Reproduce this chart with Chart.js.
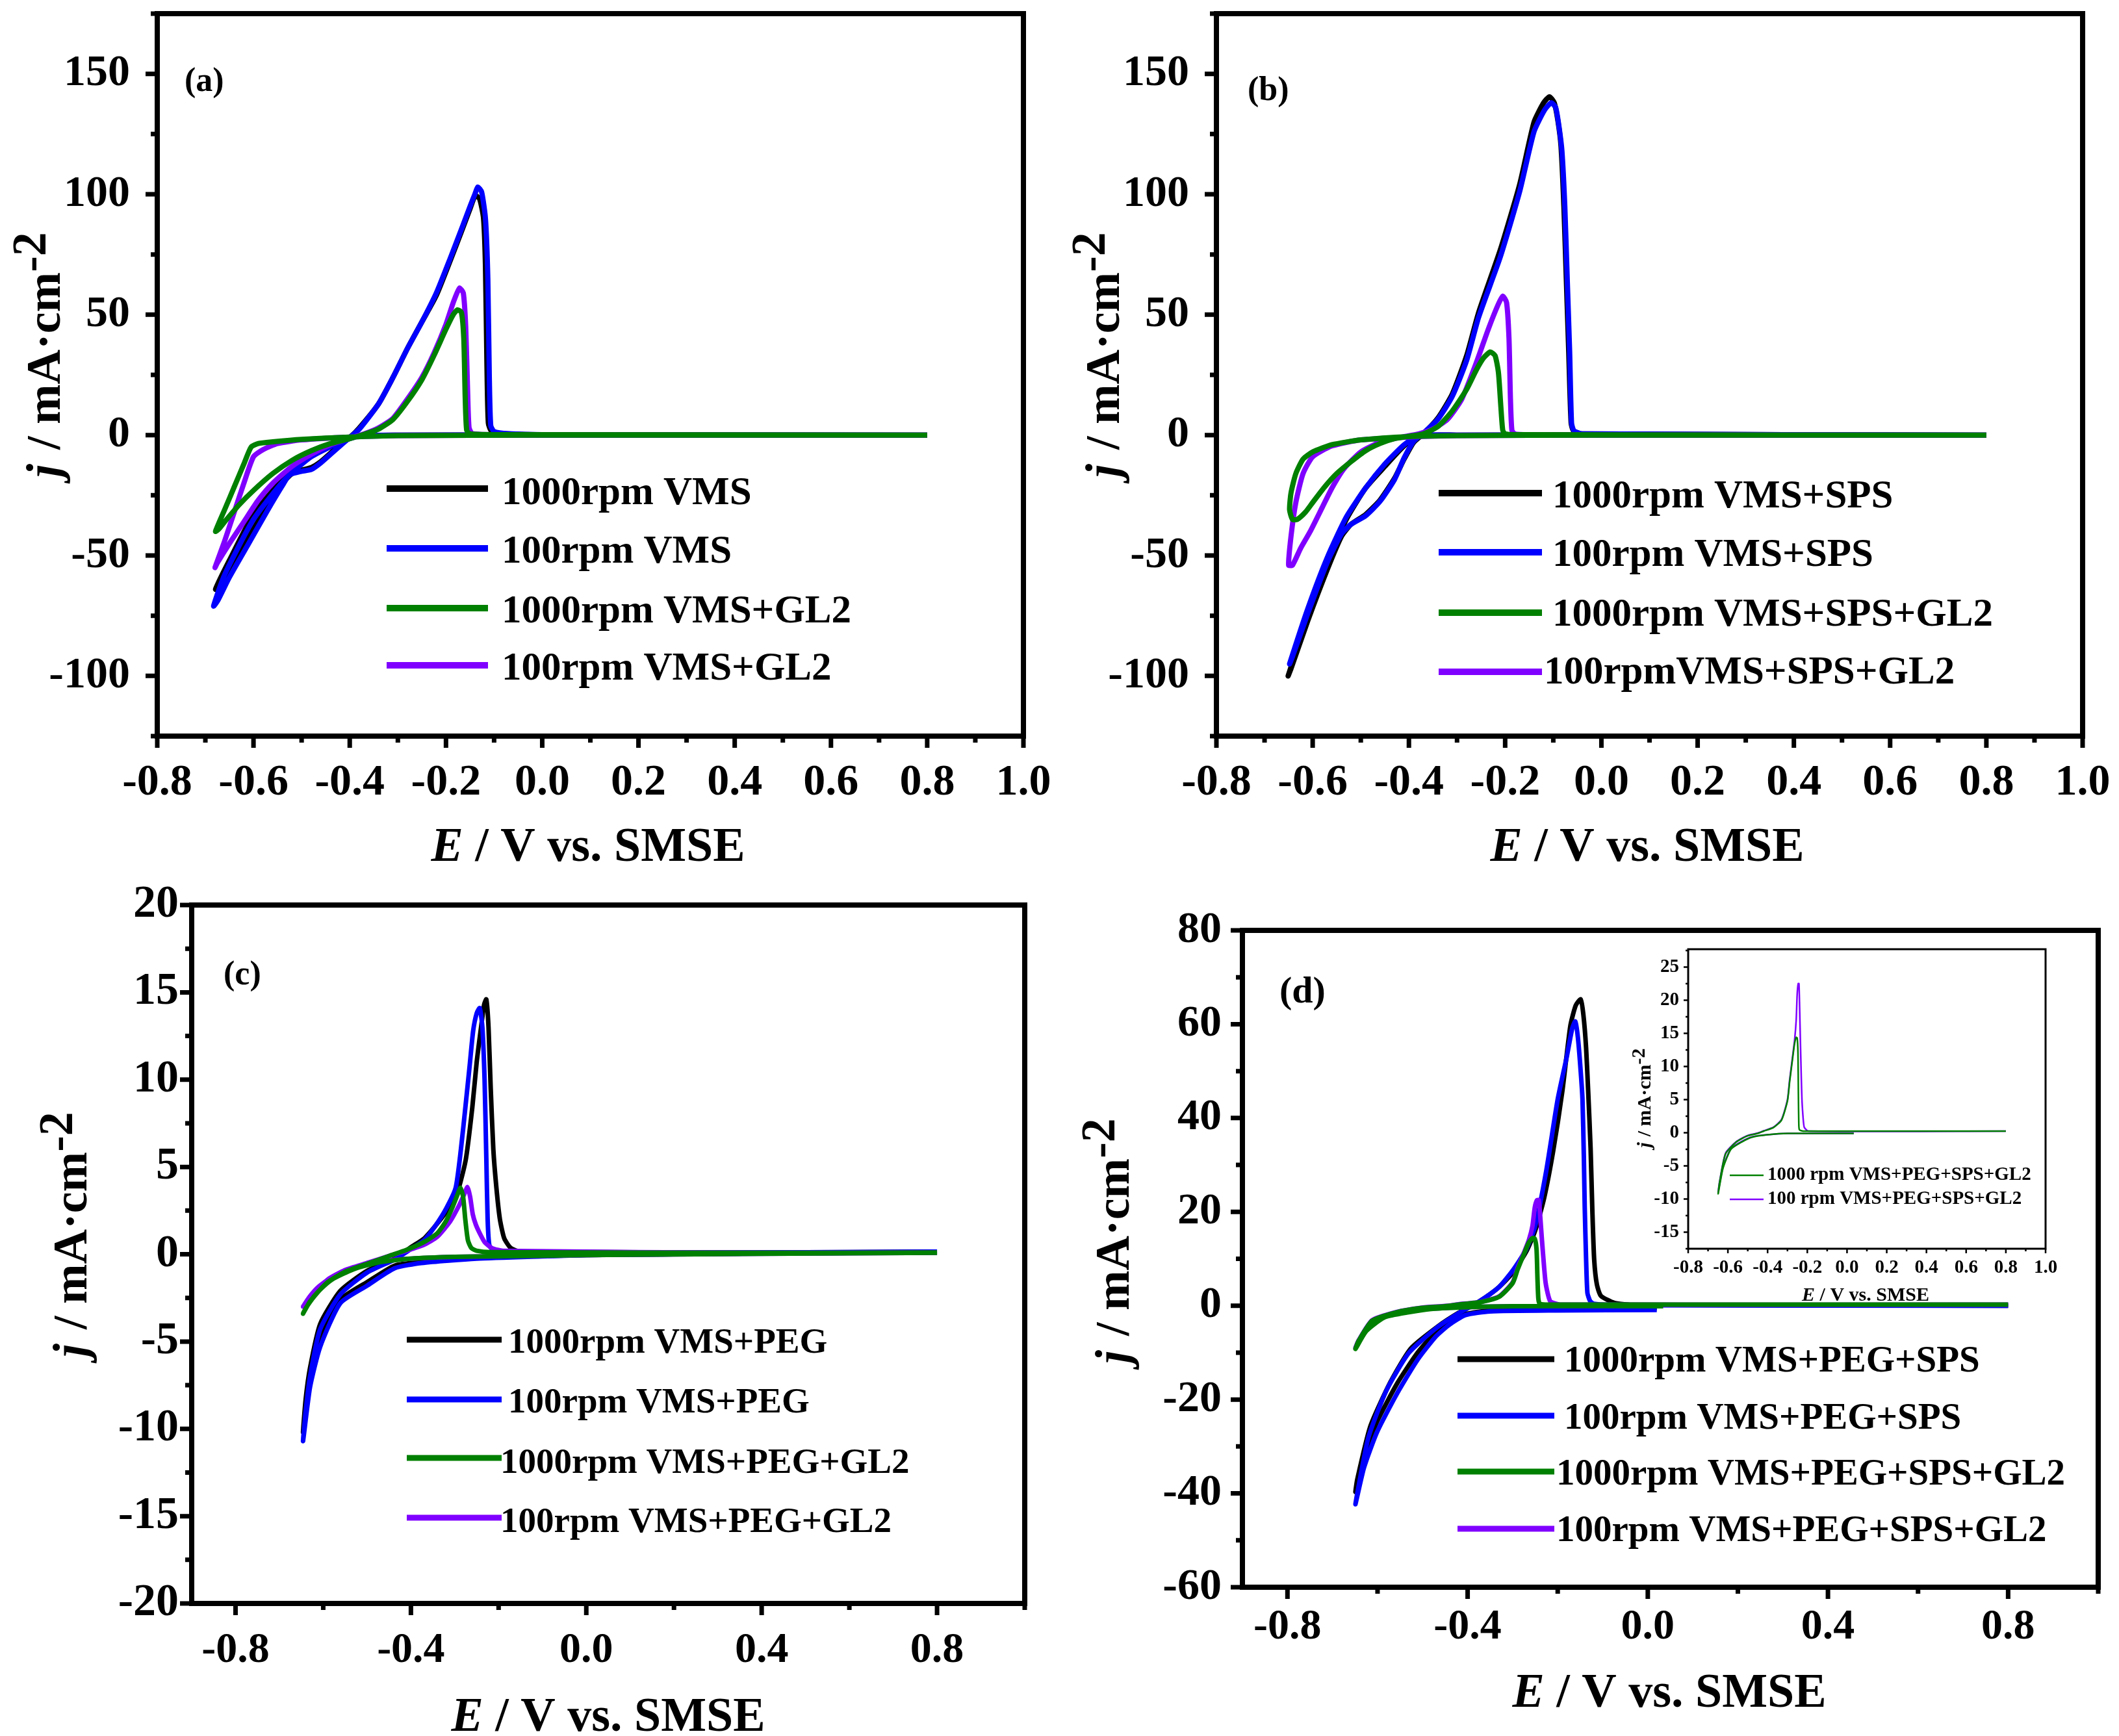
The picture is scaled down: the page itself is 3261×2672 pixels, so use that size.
<!DOCTYPE html>
<html>
<head>
<meta charset="utf-8">
<script src="https://cdn.jsdelivr.net/npm/chart.js@4.4.1/dist/chart.umd.min.js"></script>
<style>
  html, body { margin: 0; padding: 0; background: #fff; }
  body { width: 3261px; height: 2672px; position: relative; overflow: hidden; }
  canvas { position: absolute; }
</style>
</head>
<body>
<canvas id="chartA"></canvas>
<canvas id="chartB"></canvas>
<canvas id="chartC"></canvas>
<canvas id="chartD"></canvas>
<canvas id="chartInset"></canvas>
<script>
// ---- (a) VMS ----
const aE1000 = [0.8, 0.0, -0.3, -0.38, -0.42, -0.48, -0.535, -0.6, -0.65, -0.679, -0.67, -0.64, -0.6, -0.57, -0.54, -0.52, -0.5, -0.48, -0.46, -0.44, -0.42, -0.4, -0.38, -0.34, -0.31, -0.28, -0.25, -0.22, -0.19, -0.165, -0.15, -0.139, -0.13, -0.122, -0.118, -0.115, -0.112, -0.105, -0.08, 0.0, 0.8];
const aJ1000 = [0, 0, 0, -0.3, -2.5, -8.5, -17.5, -33, -52, -64, -62, -52, -39, -29, -20, -16, -14.5, -13.5, -11, -7.5, -4, -1, 3, 13, 24, 36, 47, 58, 73, 86, 94, 99.5, 98, 90, 70, 30, 5, 1.5, 0.6, 0.2, 0];
const aE100 = [0.8, 0.0, -0.3, -0.38, -0.42, -0.48, -0.535, -0.6, -0.66, -0.683, -0.675, -0.65, -0.61, -0.57, -0.54, -0.525, -0.5, -0.48, -0.46, -0.44, -0.42, -0.4, -0.38, -0.34, -0.31, -0.28, -0.25, -0.22, -0.19, -0.165, -0.15, -0.14, -0.134, -0.126, -0.118, -0.113, -0.11, -0.107, -0.1, -0.07, 0.0, 0.8];
const aJ100 = [0, 0, 0, -0.4, -3, -9, -18.5, -35, -58, -71, -69, -59, -45, -31, -21, -16.5, -15, -14.3, -11.5, -8, -4.5, -1, 2.5, 13, 24, 36, 47, 59, 74, 87, 95, 100, 103, 101, 90, 65, 25, 4, 1.5, 0.6, 0.2, 0];
const aE1000gl = [0.8, 0.0, -0.3, -0.4, -0.5, -0.56, -0.59, -0.605, -0.62, -0.64, -0.66, -0.679, -0.672, -0.66, -0.63, -0.6, -0.56, -0.52, -0.48, -0.44, -0.4, -0.37, -0.34, -0.31, -0.28, -0.25, -0.225, -0.2, -0.185, -0.176, -0.168, -0.163, -0.16, -0.157, -0.15, -0.1, 0.8];
const aJ1000gl = [0, 0, -0.2, -0.8, -1.8, -2.8, -3.5, -5, -12, -21.5, -31, -40, -39, -36, -29, -23, -16, -10.5, -6.5, -3.5, -1.5, 0.3, 2.5, 6.5, 14, 23, 33, 44, 50, 52, 51, 40, 15, 2, 0.5, 0.2, 0];
const aE100gl = [0.8, 0.0, -0.3, -0.4, -0.5, -0.55, -0.58, -0.6, -0.62, -0.64, -0.66, -0.68, -0.675, -0.65, -0.62, -0.59, -0.56, -0.52, -0.48, -0.44, -0.4, -0.37, -0.34, -0.31, -0.28, -0.25, -0.225, -0.2, -0.185, -0.172, -0.164, -0.159, -0.155, -0.152, -0.145, -0.1, 0.8];
const aJ100gl = [0, 0, -0.2, -0.8, -2, -3.5, -6, -9, -20, -32, -44, -55, -53, -45, -36, -27, -20, -13, -8, -4, -1.3, 0.5, 3, 7, 15, 24, 34, 46, 55, 61, 59, 45, 18, 3, 0.6, 0.2, 0];

// ---- (b) VMS+SPS ----
const bE1000 = [0.8, 0.0, -0.3, -0.38, -0.41, -0.45, -0.49, -0.53, -0.57, -0.61, -0.651, -0.645, -0.61, -0.57, -0.54, -0.52, -0.49, -0.46, -0.43, -0.41, -0.39, -0.37, -0.34, -0.31, -0.28, -0.255, -0.21, -0.17, -0.14, -0.12, -0.108, -0.098, -0.09, -0.084, -0.078, -0.073, -0.068, -0.063, -0.058, -0.04, 0.8];
const bJ1000 = [0, 0, 0, -0.3, -4.5, -13, -22, -35, -53, -75, -100, -97, -77, -56, -42, -37, -33, -27, -18, -10, -3, 0.5, 7, 17, 33, 51, 77, 104, 130, 138, 140.5, 138, 130, 120, 95, 65, 35, 5, 1.8, 0.5, 0];
const bE100 = [0.8, 0.0, -0.3, -0.38, -0.41, -0.45, -0.49, -0.53, -0.57, -0.61, -0.648, -0.642, -0.61, -0.57, -0.54, -0.52, -0.49, -0.46, -0.43, -0.41, -0.39, -0.37, -0.34, -0.31, -0.28, -0.255, -0.21, -0.17, -0.14, -0.118, -0.104, -0.095, -0.088, -0.082, -0.076, -0.071, -0.066, -0.062, -0.057, -0.04, 0.8];
const bJ100 = [0, 0, 0, -0.3, -4, -12, -22, -34, -51, -72, -95, -92, -74, -53, -41, -37, -33.5, -27.5, -18.5, -9.5, -2.5, 0.8, 6.5, 16, 31, 49, 74, 101, 126, 135, 138, 136, 128, 118, 95, 65, 35, 5, 1.8, 0.5, 0];
const bE1000gl = [0.8, 0.0, -0.3, -0.4, -0.5, -0.56, -0.6, -0.62, -0.635, -0.645, -0.648, -0.642, -0.632, -0.615, -0.6, -0.575, -0.55, -0.52, -0.49, -0.46, -0.43, -0.4, -0.37, -0.34, -0.31, -0.28, -0.26, -0.245, -0.231, -0.221, -0.214, -0.209, -0.205, -0.2, -0.18, 0.8];
const bJ1000gl = [0, 0, -0.2, -0.6, -2, -4, -7, -10, -16, -24, -31, -35, -35, -32, -28, -21.5, -16, -11, -6.5, -3.5, -1.5, -0.5, 0.5, 3.5, 10, 19, 27, 32, 34.5, 33, 26, 12, 2, 0.5, 0.2, 0];
const bE100gl = [0.8, 0.0, -0.3, -0.4, -0.5, -0.56, -0.6, -0.62, -0.635, -0.645, -0.65, -0.642, -0.625, -0.605, -0.58, -0.56, -0.535, -0.5, -0.46, -0.42, -0.38, -0.35, -0.32, -0.29, -0.26, -0.235, -0.215, -0.205, -0.197, -0.192, -0.189, -0.186, -0.18, -0.15, 0.8];
const bJ100gl = [0, 0, -0.2, -0.8, -2, -4.5, -9, -16, -28, -42, -54, -54, -47, -40, -30, -22, -14, -7, -3, -1, 0.5, 2.5, 6.5, 15, 30, 44, 54, 57.7, 55, 40, 15, 2, 0.5, 0.2, 0];

// ---- (c) VMS+PEG ----
const cE1000 = [0.8, 0.4, 0.0, -0.1, -0.25, -0.376, -0.437, -0.5, -0.561, -0.607, -0.63, -0.646, -0.64, -0.63, -0.607, -0.561, -0.5, -0.437, -0.4, -0.37, -0.345, -0.32, -0.298, -0.275, -0.26, -0.25, -0.24, -0.233, -0.228, -0.223, -0.218, -0.212, -0.205, -0.197, -0.187, -0.172, -0.15, 0.4, 0.8];
const cJ1000 = [0.1, 0.05, -0.05, -0.1, -0.2, -0.45, -0.65, -1.6, -2.6, -4.9, -7, -10.2, -8.3, -6.5, -4, -2.1, -0.95, -0.25, 0.4, 0.9, 1.6, 2.4, 3.2, 5.4, 8.4, 11, 13, 14.3, 14.6, 13, 9.5, 6, 3.8, 2, 0.9, 0.35, 0.15, 0.1, 0.15];
const cE100 = [0.8, 0.4, 0.0, -0.1, -0.25, -0.376, -0.437, -0.5, -0.561, -0.607, -0.63, -0.646, -0.64, -0.63, -0.607, -0.561, -0.5, -0.437, -0.4, -0.37, -0.345, -0.32, -0.298, -0.286, -0.275, -0.266, -0.258, -0.25, -0.243, -0.237, -0.232, -0.228, -0.225, -0.221, -0.21, -0.18, 0.4, 0.8];
const cJ100 = [0.1, 0.05, -0.05, -0.12, -0.25, -0.5, -0.8, -1.8, -2.8, -5.3, -7.6, -10.7, -9, -7, -4.3, -2.3, -1.05, -0.3, 0.3, 0.8, 1.6, 2.6, 3.8, 6, 8.6, 10.8, 12.8, 13.8, 14.1, 13, 10, 5.5, 2, 0.5, 0.2, 0.12, 0.1, 0.15];
const cE1000gl = [0.8, 0.4, 0.0, -0.2, -0.3, -0.4, -0.47, -0.53, -0.58, -0.61, -0.63, -0.646, -0.64, -0.62, -0.59, -0.55, -0.5, -0.45, -0.41, -0.37, -0.34, -0.32, -0.305, -0.294, -0.287, -0.281, -0.276, -0.27, -0.262, -0.25, -0.22, 0.4, 0.8];
const cJ1000gl = [0.08, 0.03, -0.05, -0.12, -0.15, -0.25, -0.45, -0.85, -1.45, -2.1, -2.7, -3.4, -3.1, -2.4, -1.6, -1.0, -0.55, -0.1, 0.25, 0.7, 1.2, 1.9, 2.7, 3.4, 3.8, 3.3, 2, 0.8, 0.35, 0.2, 0.12, 0.08, 0.1];
const cE100gl = [0.8, 0.4, 0.0, -0.2, -0.3, -0.4, -0.47, -0.53, -0.58, -0.61, -0.63, -0.646, -0.64, -0.62, -0.59, -0.55, -0.5, -0.45, -0.41, -0.37, -0.34, -0.31, -0.29, -0.279, -0.271, -0.265, -0.259, -0.252, -0.243, -0.232, -0.215, -0.19, 0.4, 0.8];
const cJ100gl = [0.08, 0.03, -0.05, -0.12, -0.15, -0.25, -0.4, -0.75, -1.3, -1.85, -2.4, -3.0, -2.8, -2.2, -1.45, -0.9, -0.5, -0.1, 0.2, 0.55, 1.0, 1.9, 2.8, 3.4, 3.85, 3.3, 2.3, 1.7, 1.2, 0.7, 0.35, 0.2, 0.08, 0.1];

// ---- (d) VMS+PEG+SPS (GL2 curves also shown in the inset) ----
const dE1000 = [0.02, -0.2, -0.35, -0.405, -0.44, -0.47, -0.511, -0.556, -0.6, -0.63, -0.649, -0.645, -0.616, -0.571, -0.526, -0.466, -0.42, -0.39, -0.36, -0.33, -0.3, -0.27, -0.25, -0.23, -0.21, -0.19, -0.172, -0.16, -0.149, -0.143, -0.137, -0.132, -0.127, -0.123, -0.119, -0.113, -0.104, -0.074, -0.03, 0.8];
const dJ1000 = [-0.5, -0.8, -1.0, -1.8, -3.3, -5.5, -10, -16.5, -24.5, -32, -39.7, -37, -25.7, -16.2, -9.1, -4.4, -1.5, 0, 1.8, 4, 7, 11.5, 16, 23, 33, 45.5, 59.6, 64, 65.3, 62, 55, 45, 33.6, 20, 9.8, 4.5, 2.1, 0.6, 0.2, 0];
const dE100 = [0.02, -0.2, -0.35, -0.405, -0.44, -0.47, -0.511, -0.556, -0.601, -0.63, -0.649, -0.645, -0.62, -0.58, -0.53, -0.47, -0.42, -0.39, -0.36, -0.33, -0.3, -0.27, -0.25, -0.225, -0.2, -0.18, -0.168, -0.161, -0.155, -0.149, -0.145, -0.142, -0.14, -0.137, -0.134, -0.128, -0.12, -0.05, 0.8];
const dJ100 = [-0.9, -1.0, -1.2, -2, -4, -6.5, -11.5, -18.6, -26.9, -34.5, -42.3, -40, -28, -18, -10, -4.8, -1.6, 0, 1.8, 4, 7.5, 12, 17, 29, 44, 53, 59, 60.6, 57, 50, 44, 32, 21, 10, 2.7, 1, 0.4, 0.1, 0];
const dE1000gl = [0.034, -0.3, -0.4, -0.477, -0.531, -0.585, -0.625, -0.649, -0.642, -0.612, -0.558, -0.504, -0.45, -0.42, -0.37, -0.33, -0.3, -0.289, -0.275, -0.264, -0.256, -0.251, -0.247, -0.245, -0.243, -0.24, -0.221, 0.8];
const dJ1000gl = [-0.1, -0.1, -0.3, -0.66, -1.4, -2.5, -5.4, -9.2, -7.5, -3.2, -1.4, -0.5, -0.1, 0.25, 0.8, 1.9, 4.8, 7.7, 11, 13.5, 14.4, 14.3, 12, 6, 1.5, 0.45, 0.25, 0.25];
const dE100gl = [0.034, -0.3, -0.4, -0.477, -0.531, -0.585, -0.625, -0.649, -0.642, -0.612, -0.558, -0.504, -0.45, -0.42, -0.37, -0.33, -0.3, -0.289, -0.275, -0.264, -0.256, -0.251, -0.246, -0.242, -0.238, -0.235, -0.23, -0.227, -0.224, -0.219, -0.215, -0.195, 0.8];
const dJ100gl = [-0.1, -0.1, -0.3, -0.6, -1.3, -2.4, -5.2, -9.0, -7.4, -3.1, -1.35, -0.45, -0.05, 0.3, 0.85, 2.0, 5.0, 8, 11.3, 14, 17, 20.9, 22.5, 22.5, 18, 14, 8, 5, 3.4, 1.5, 0.8, 0.25, 0.25];

// ---- legend labels ----
const legendA = ['1000rpm VMS', '100rpm VMS', '1000rpm VMS+GL2', '100rpm VMS+GL2'];
const legendB = ['1000rpm VMS+SPS', '100rpm VMS+SPS', '1000rpm VMS+SPS+GL2', '100rpmVMS+SPS+GL2'];
const legendC = ['1000rpm VMS+PEG', '100rpm VMS+PEG', '1000rpm VMS+PEG+GL2', '100rpm VMS+PEG+GL2'];
const legendD = ['1000rpm VMS+PEG+SPS', '100rpm VMS+PEG+SPS', '1000rpm VMS+PEG+SPS+GL2', '100rpm VMS+PEG+SPS+GL2'];
const legendInset = ['1000 rpm VMS+PEG+SPS+GL2', '100 rpm VMS+PEG+SPS+GL2'];

// ---- tick labels ----
const xTicksAB = [-0.8, -0.6, -0.4, -0.2, 0.0, 0.2, 0.4, 0.6, 0.8, 1.0];
const yTicksAB = [-100, -50, 0, 50, 100, 150];
const xTicksCD = [-0.8, -0.4, 0.0, 0.4, 0.8];
const yTicksC = [-20, -15, -10, -5, 0, 5, 10, 15, 20];
const yTicksD = [-60, -40, -20, 0, 20, 40, 60, 80];
const yTicksInset = [-15, -10, -5, 0, 5, 10, 15, 20, 25];

const colors = ['#000000', '#0000ff', '#008000', '#8000ff'];
const drawOrder = [4, 3, 1, 2]; // green on top, then violet, blue, black

const FONT = 'Liberation Serif';

function fmtX(v) {
    return (Math.abs(v) < 1e-9 ? 0 : v).toFixed(1);
}

function series(list, labels, lw) {
    return list.map(function(pair, i) {
        return {
            label: labels[i],
            data: pair[0].map((e, k) => ({ x: e, y: pair[1][k] })),
            borderColor: colors[pair[2]],
            backgroundColor: colors[pair[2]],
            borderWidth: lw,
            showLine: true,
            pointRadius: 0,
            pointHoverRadius: 0,
            tension: 0.2,
            fill: false,
            order: drawOrder[pair[2]]
        };
    });
}

// minor tick positions halfway between majors, inside the axis range
function withMinors(majors, min, max) {
    const half = (majors[1] - majors[0]) / 2;
    const out = [];
    for (let v = majors[0] - half * 4; v <= max + 1e-9; v += half) {
        if (v < min - 1e-9) continue;
        const isMajor = majors.some(m => Math.abs(m - v) < 1e-9);
        out.push({ v: v, major: isMajor });
    }
    return out;
}

function font(size, italic) {
    return (italic ? 'italic ' : '') + 'bold ' + size + 'px "' + FONT + '"';
}

function drawXTitle(ctx, cx, by, size) {
    ctx.font = font(size, true);
    const w1 = ctx.measureText('E').width;
    ctx.font = font(size, false);
    const rest = ' / V vs. SMSE';
    const w2 = ctx.measureText(rest).width;
    let x = cx - (w1 + w2) / 2;
    ctx.textBaseline = 'alphabetic';
    ctx.textAlign = 'left';
    ctx.font = font(size, true);
    ctx.fillText('E', x, by);
    ctx.font = font(size, false);
    ctx.fillText(rest, x + w1, by);
}

function drawYTitle(ctx, bx, cy, size) {
    ctx.save();
    ctx.translate(bx, cy);
    ctx.rotate(-Math.PI / 2);
    ctx.textBaseline = 'alphabetic';
    ctx.textAlign = 'left';
    ctx.font = font(size, true);
    const w1 = ctx.measureText('j').width + size * 0.05;
    ctx.font = font(size, false);
    const mid = ' / mA\u00b7cm';
    const w2 = ctx.measureText(mid).width;
    const sup = '-2';
    const w3 = ctx.measureText(sup).width;
    let x = -(w1 + w2 + w3) / 2;
    ctx.font = font(size, true);
    ctx.fillText('j', x, 0);
    ctx.font = font(size, false);
    ctx.fillText(mid, x + w1, 0);
    ctx.fillText(sup, x + w1 + w2, -size * 0.3);
    ctx.restore();
}

function decor(p) {
    return {
        id: 'decor',
        beforeDraw(chart) {
            if (!p.whiteArea) return;
            const a = chart.chartArea, ctx = chart.ctx;
            ctx.save();
            ctx.fillStyle = '#ffffff';
            ctx.fillRect(a.left, a.top, a.right - a.left, a.bottom - a.top);
            ctx.restore();
        },
        afterDraw(chart) {
            const ctx = chart.ctx, a = chart.chartArea;
            const sx = chart.scales.x, sy = chart.scales.y;
            const ox = p.ox, oy = p.oy;
            ctx.save();
            ctx.strokeStyle = '#000';
            ctx.fillStyle = '#000';
            ctx.lineCap = 'butt';
            // outward tick marks on left and bottom
            ctx.lineWidth = p.tickW;
            ctx.beginPath();
            withMinors(p.xTicks, p.xMin, p.xMax).forEach(function(t) {
                const px = sx.getPixelForValue(t.v);
                ctx.moveTo(px, a.bottom);
                ctx.lineTo(px, a.bottom + (t.major ? p.majorLen : p.minorLen));
            });
            withMinors(p.yTicks, p.yMin, p.yMax).forEach(function(t) {
                const py = sy.getPixelForValue(t.v);
                ctx.moveTo(a.left, py);
                ctx.lineTo(a.left - (t.major ? p.majorLen : p.minorLen), py);
            });
            ctx.stroke();
            // frame
            ctx.lineWidth = p.frameW;
            ctx.strokeRect(a.left, a.top, a.right - a.left, a.bottom - a.top);
            // axis titles
            drawXTitle(ctx, p.xTitle[0] - ox, p.xTitle[1] - oy, p.titleSize);
            drawYTitle(ctx, p.yTitle[0] - ox, p.yTitle[1] - oy, p.titleSize);
            // panel tag
            if (p.tag) {
                ctx.font = font(p.tag.size, false);
                ctx.textAlign = 'left';
                ctx.textBaseline = 'middle';
                ctx.fillText(p.tag.text, p.tag.x - ox, p.tag.y - oy);
            }
            // legend
            const lg = p.legend;
            const ds = chart.data.datasets;
            ctx.font = font(lg.size, false);
            ctx.textAlign = 'left';
            ctx.textBaseline = 'middle';
            ds.forEach(function(d, i) {
                ctx.strokeStyle = d.borderColor;
                ctx.lineWidth = lg.lineW;
                ctx.beginPath();
                ctx.moveTo(lg.lineX[0] - ox, lg.lineY[i] - oy);
                ctx.lineTo(lg.lineX[1] - ox, lg.lineY[i] - oy);
                ctx.stroke();
            });
            ctx.fillStyle = '#000';
            ds.forEach(function(d, i) {
                ctx.fillText(d.label, lg.textX[i] - ox, lg.textY[i] - oy);
            });
            ctx.restore();
        }
    };
}

function buildPanel(p) {
    const cv = document.getElementById(p.id);
    cv.width = p.w;
    cv.height = p.h;
    cv.style.left = p.ox + 'px';
    cv.style.top = p.oy + 'px';
    cv.style.width = p.w + 'px';
    cv.style.height = p.h + 'px';
    const L = p.area[0] - p.ox, T = p.area[1] - p.oy;
    const R = p.ox + p.w - p.area[2], B = p.oy + p.h - p.area[3];
    const tickFontX = { family: FONT, size: p.xFont, weight: 'bold', lineHeight: 1.2 };
    const tickFontY = { family: FONT, size: p.yFont, weight: 'bold', lineHeight: 1.2 };
    return new Chart(cv.getContext('2d'), {
        type: 'scatter',
        data: { datasets: p.datasets },
        options: {
            responsive: false,
            animation: false,
            devicePixelRatio: 1,
            events: [],
            layout: { padding: { left: 0, top: T, right: R, bottom: 0 } },
            plugins: { legend: { display: false }, tooltip: { enabled: false } },
            scales: {
                x: {
                    type: 'linear',
                    min: p.xMin,
                    max: p.xMax,
                    afterBuildTicks: s => { s.ticks = p.xTicks.map(v => ({ value: v })); },
                    afterFit: s => { s.height = B; s.paddingLeft = 0; s.paddingRight = 0; },
                    grid: { display: false, drawTicks: false },
                    border: { display: false },
                    ticks: {
                        autoSkip: false, maxRotation: 0, minRotation: 0,
                        color: '#000', font: tickFontX, padding: p.xPad,
                        callback: v => fmtX(v)
                    }
                },
                y: {
                    type: 'linear',
                    min: p.yMin,
                    max: p.yMax,
                    afterBuildTicks: s => { s.ticks = p.yTicks.map(v => ({ value: v })); },
                    afterFit: s => { s.width = L; s.paddingTop = 0; s.paddingBottom = 0; },
                    grid: { display: false, drawTicks: false },
                    border: { display: false },
                    ticks: {
                        autoSkip: false,
                        color: '#000', font: tickFontY, padding: p.yPad,
                        callback: v => String(v)
                    }
                }
            }
        },
        plugins: [decor(p)]
    });
}

const big = { frameW: 8, tickW: 7, majorLen: 18, minorLen: 10, titleSize: 74 };

buildPanel(Object.assign({}, big, {
    id: 'chartA', ox: 0, oy: 0, w: 1630, h: 1340, area: [242, 21, 1575, 1133],
    xMin: -0.8, xMax: 1.0, yMin: -125, yMax: 175, xTicks: xTicksAB, yTicks: yTicksAB,
    xFont: 68, yFont: 68, xPad: 32, yPad: 42,
    xTitle: [905, 1325], yTitle: [92, 546],
    tag: { text: '(a)', x: 284, y: 127, size: 52 },
    legend: { size: 61, lineW: 10, lineX: [595, 751], lineY: [752, 844, 936, 1024], textX: [772, 772, 772, 772], textY: [760, 850, 942, 1030] },
    datasets: series([[aE1000, aJ1000, 0], [aE100, aJ100, 1], [aE1000gl, aJ1000gl, 2], [aE100gl, aJ100gl, 3]], legendA, 8)
}));

buildPanel(Object.assign({}, big, {
    id: 'chartB', ox: 1630, oy: 0, w: 1631, h: 1340, area: [1872, 21, 3205, 1133],
    xMin: -0.8, xMax: 1.0, yMin: -125, yMax: 175, xTicks: xTicksAB, yTicks: yTicksAB,
    xFont: 68, yFont: 68, xPad: 32, yPad: 42,
    xTitle: [2535, 1325], yTitle: [1722, 546],
    tag: { text: '(b)', x: 1920, y: 141, size: 52 },
    legend: { size: 61, lineW: 10, lineX: [2214, 2373], lineY: [759, 850, 943, 1034], textX: [2389, 2389, 2389, 2376], textY: [765, 855, 947, 1036] },
    datasets: series([[bE1000, bJ1000, 0], [bE100, bJ100, 1], [bE1000gl, bJ1000gl, 2], [bE100gl, bJ100gl, 3]], legendB, 8)
}));

buildPanel(Object.assign({}, big, {
    id: 'chartC', ox: 0, oy: 1340, w: 1630, h: 1332, area: [295, 1393, 1577, 2468],
    xMin: -0.9, xMax: 1.0, yMin: -20, yMax: 20, xTicks: xTicksCD, yTicks: yTicksC,
    xFont: 66, yFont: 70, xPad: 33, yPad: 20,
    xTitle: [936, 2664], yTitle: [133, 1900],
    tag: { text: '(c)', x: 344, y: 1502, size: 52 },
    legend: { size: 55, lineW: 9, lineX: [626, 772], lineY: [2062, 2154, 2244, 2336], textX: [782, 782, 770, 770], textY: [2068, 2160, 2253, 2344] },
    datasets: series([[cE1000, cJ1000, 0], [cE100, cJ100, 1], [cE1000gl, cJ1000gl, 2], [cE100gl, cJ100gl, 3]], legendC, 7)
}));

buildPanel(Object.assign({}, big, {
    id: 'chartD', ox: 1630, oy: 1340, w: 1631, h: 1332, area: [1912, 1432, 3229, 2443],
    xMin: -0.9, xMax: 1.0, yMin: -60, yMax: 80, xTicks: xTicksCD, yTicks: yTicksD,
    xFont: 66, yFont: 68, xPad: 22, yPad: 32,
    xTitle: [2569, 2627], yTitle: [1737, 1910],
    tag: { text: '(d)', x: 1969, y: 1528, size: 58 },
    legend: { size: 57, lineW: 9, lineX: [2243, 2392], lineY: [2092, 2179, 2265, 2353], textX: [2407, 2407, 2395, 2395], textY: [2096, 2184, 2270, 2357] },
    datasets: series([[dE1000, dJ1000, 0], [dE100, dJ100, 1], [dE1000gl, dJ1000gl, 2], [dE100gl, dJ100gl, 3]], legendD, 7)
}));

buildPanel({
    id: 'chartInset', ox: 2480, oy: 1420, w: 720, h: 620, area: [2598, 1461, 3148, 1922],
    whiteArea: true,
    frameW: 3, tickW: 2.5, majorLen: 7, minorLen: 4, titleSize: 30,
    xMin: -0.8, xMax: 1.0, yMin: -17.5, yMax: 27.7, xTicks: xTicksAB, yTicks: yTicksInset,
    xFont: 29, yFont: 29, xPad: 12, yPad: 14,
    xTitle: [2871, 2002], yTitle: [2540, 1690],
    tag: null,
    legend: { size: 29, lineW: 2.5, lineX: [2662, 2714], lineY: [1809, 1846], textX: [2720, 2720], textY: [1809, 1846] },
    datasets: series([[dE1000gl, dJ1000gl, 2], [dE100gl, dJ100gl, 3]], legendInset, 2.5)
});
</script>
</body>
</html>
